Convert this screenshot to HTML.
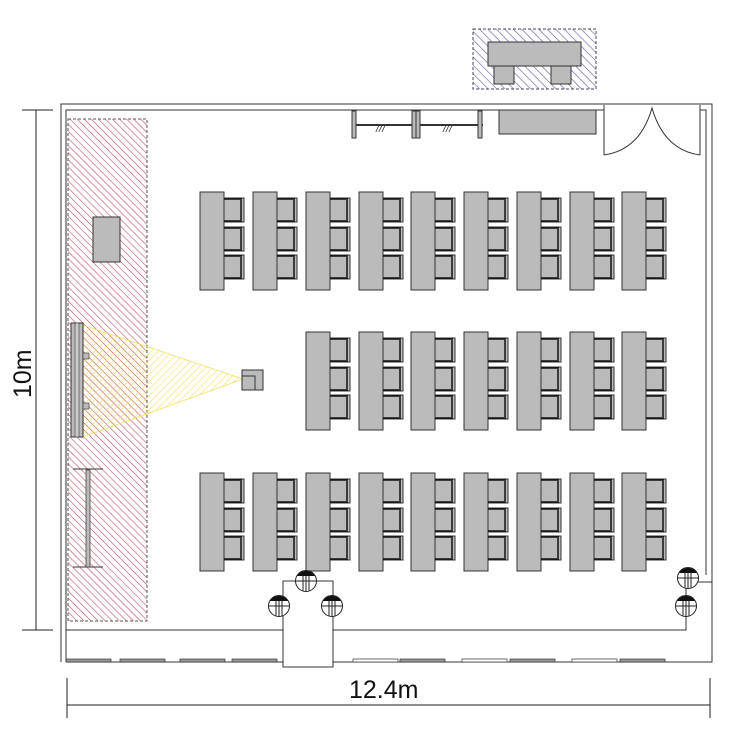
<!DOCTYPE html>
<html><head><meta charset="utf-8"><style>body{margin:0;background:#fff}svg{display:block}</style></head>
<body>
<svg id="s" width="750" height="750" viewBox="0 0 750 750" xmlns="http://www.w3.org/2000/svg" font-family="Liberation Sans, sans-serif">
<defs>
<pattern id="red" width="5" height="5" patternUnits="userSpaceOnUse" patternTransform="rotate(-45)"><line x1="0" y1="0" x2="0" y2="5" stroke="#c05060" stroke-width="1.2"/></pattern>
<pattern id="blue" width="6" height="6" patternUnits="userSpaceOnUse" patternTransform="rotate(-45)"><line x1="0" y1="0" x2="0" y2="6" stroke="#6060a0" stroke-width="1.2"/></pattern>
<pattern id="yel" width="5" height="5" patternUnits="userSpaceOnUse" patternTransform="rotate(45)"><line x1="0" y1="0" x2="0" y2="5" stroke="#f0e060" stroke-width="1.2"/></pattern>
</defs>
<g fill="none" stroke="#333" stroke-width="1">
<path d="M61,662 V104 H712 V575"/>
<path d="M66,662 V110 H604 M700,110 H706 V575"/>
<path d="M66,630 H283 M333,630 H686 V582 H712 V575"/>
<path d="M66,662 H283 M333,662 H712 V582"/>
<path d="M283,581 H333 V667 H283 Z" fill="#fff"/>
<path d="M604,105 V155 M700,105 V155"/>
<path d="M604,155 Q640,150 652,108 Q664,150 700,155"/>
</g>
<g fill="#999" stroke="#333" stroke-width="0.7">
<rect x="66" y="659" width="45" height="3"/><rect x="120" y="659" width="45" height="3"/><rect x="180" y="659" width="45" height="3"/><rect x="232" y="659" width="45" height="3"/>
<rect x="353" y="659" width="45" height="3" fill="#fff"/><rect x="400" y="659" width="45" height="3"/><rect x="462" y="659" width="45" height="3" fill="#fff"/><rect x="510" y="659" width="45" height="3"/><rect x="572" y="659" width="45" height="3" fill="#fff"/><rect x="620" y="659" width="45" height="3"/>
</g>
<rect x="68" y="119" width="79" height="502" fill="url(#red)" stroke="#555" stroke-dasharray="3,2"/>
<rect x="93" y="217" width="27" height="45" fill="#bbb" stroke="#333"/>
<polygon points="83,325 83,437 243,379" fill="url(#yel)" stroke="#f0e060" stroke-width="0.8"/>
<rect x="71" y="323" width="12" height="114" fill="#bbb" stroke="#333"/>
<rect x="75" y="323" width="4" height="114" fill="#ccc" stroke="#333" stroke-width="0.6"/>
<rect x="83" y="353" width="6" height="6" fill="#bbb" stroke="#333" stroke-width="0.6"/>
<rect x="83" y="403" width="6" height="6" fill="#bbb" stroke="#333" stroke-width="0.6"/>
<rect x="242" y="370" width="21" height="20" fill="#bbb" stroke="#333"/>
<path d="M242,376 H255 V390" fill="none" stroke="#333"/>
<g stroke="#333"><line x1="73" y1="469" x2="103" y2="469"/><line x1="73" y1="567" x2="103" y2="567"/><rect x="86" y="470" width="4" height="97" fill="#bbb" stroke-width="0.7"/></g>
<rect x="473" y="29" width="123" height="60" fill="url(#blue)" stroke="#446" stroke-dasharray="3,2"/>
<rect x="488" y="42" width="93" height="24" fill="#bbb" stroke="#333"/>
<rect x="494" y="66" width="20" height="18" fill="#bbb" stroke="#333"/><rect x="551" y="66" width="20" height="18" fill="#bbb" stroke="#333"/>
<g stroke="#333" fill="#bbb"><line x1="353" y1="125" x2="483" y2="125" stroke-width="2"/>
<rect x="352" y="111" width="4" height="27"/><rect x="412" y="111" width="4" height="27"/><rect x="416" y="111" width="4" height="27"/><rect x="478" y="111" width="4" height="27"/></g>
<text x="376" y="132" font-size="11" font-style="italic" fill="#333">///</text><text x="443" y="132" font-size="11" font-style="italic" fill="#333">///</text>
<rect x="499" y="110" width="97" height="24" fill="#bbb" stroke="#333"/>
<g id="desks"></g>
<g id="circ"></g>
<g stroke="#222"><line x1="36" y1="110" x2="36" y2="630"/><line x1="22" y1="110" x2="53" y2="110"/><line x1="22" y1="630" x2="53" y2="630"/>
<line x1="67" y1="705" x2="710" y2="705"/><line x1="67" y1="678" x2="67" y2="718"/><line x1="710" y1="678" x2="710" y2="718"/></g>
<text x="0" y="0" font-size="25" fill="#111" transform="translate(31,398) rotate(-90)">10m</text>
<text x="349" y="698" font-size="25" fill="#111">12.4m</text>
</svg>
<script>
var g=document.getElementById('desks'),h='';
var xs=[200,253,306,359,411,464,517,570,622];
function desk(x,y){h+='<rect x="'+x+'" y="'+y+'" width="24" height="98" fill="#bbb" stroke="#333"/>';
[6,35,63].forEach(function(o){h+='<rect x="'+(x+24)+'" y="'+(y+o)+'" width="20" height="24" fill="#bbb" stroke="#333"/><path d="M'+(x+41)+','+(y+o+2)+' V'+(y+o+22)+'" stroke="#111" stroke-width="1.5"/><line x1="'+(x+24)+'" y1="'+(y+o+1)+'" x2="'+(x+42)+'" y2="'+(y+o+1)+'" stroke="#111" stroke-width="1.5"/><line x1="'+(x+24)+'" y1="'+(y+o+23)+'" x2="'+(x+42)+'" y2="'+(y+o+23)+'" stroke="#111" stroke-width="1.5"/>';});}
xs.forEach(function(x){desk(x,192);desk(x,473);});
xs.slice(2).forEach(function(x){desk(x,332);});
g.innerHTML=h;
var c='';
[[279,606],[306,581],[332,606],[688,578],[686,606]].forEach(function(p){var x=p[0],y=p[1];
c+='<circle cx="'+x+'" cy="'+y+'" r="10.5" fill="#fff" stroke="#222"/><path d="M'+(x-9)+','+(y-5)+' A10.5,10.5 0 0 1 '+(x+9)+','+(y-5)+' Z" fill="#111"/><line x1="'+(x-10.5)+'" y1="'+y+'" x2="'+(x+10.5)+'" y2="'+y+'" stroke="#222"/><line x1="'+(x-3)+'" y1="'+(y-5)+'" x2="'+(x-3)+'" y2="'+(y+10)+'" stroke="#222"/><line x1="'+x+'" y1="'+(y-5)+'" x2="'+x+'" y2="'+(y+10.5)+'" stroke="#222"/><line x1="'+(x+3)+'" y1="'+(y-5)+'" x2="'+(x+3)+'" y2="'+(y+10)+'" stroke="#222"/>';});
document.getElementById('circ').innerHTML=c;
</script>
</body></html>
